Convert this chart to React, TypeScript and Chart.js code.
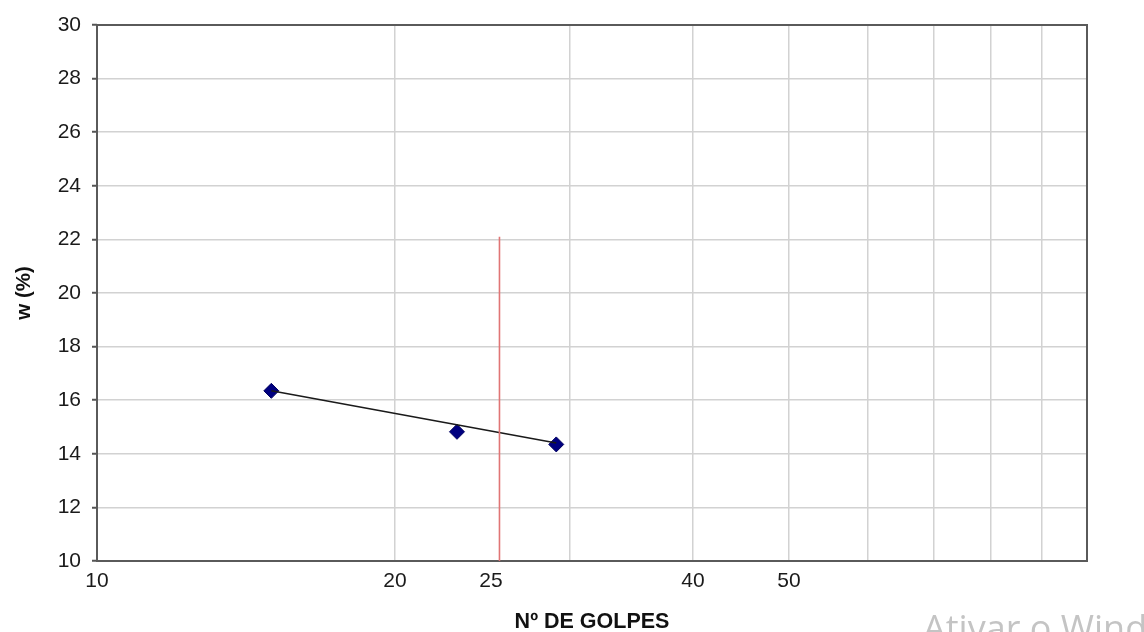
import React, { useEffect, useRef } from "react";
import { Chart, registerables } from "chart.js";

Chart.register(...registerables);

// Data
const golpes = [15.0, 23.1, 29.1];
const umidade = [16.35, 14.82, 14.35];
const trendGolpes = [15.0, 29.1];
const trendUmidade = [16.35, 14.4];
const refLineGolpes = [25.5, 25.5];
const refLineUmidade = [10, 22.1];

const xGridValues = [10, 20, 25, 30, 40, 50, 60, 70, 80, 90, 100];
const xTickLabels = [10, 20, 25, 40, 50];
const hiddenGridValues = [25];

const FONT = "'Liberation Sans', Arial, sans-serif";

const frame = {
  id: "frame",
  beforeDatasetsDraw(chart: any) {
    const { ctx, chartArea } = chart;
    ctx.save();
    ctx.strokeStyle = "#5a5a5a";
    ctx.lineWidth = 2;
    ctx.strokeRect(chartArea.left, chartArea.top, chartArea.right - chartArea.left, chartArea.bottom - chartArea.top);
    ctx.restore();
  },
};

export default function App() {
  const ref = useRef<HTMLCanvasElement | null>(null);

  useEffect(() => {
    if (!ref.current) return;
    const chart = new Chart(ref.current, {
      type: "scatter",
      data: {
        datasets: [
          {
            label: "ref",
            data: refLineGolpes.map((x, i) => ({ x, y: refLineUmidade[i] })),
            showLine: true,
            borderColor: "#e07575",
            borderWidth: 1.6,
            pointRadius: 0,
          },
          {
            label: "trend",
            data: trendGolpes.map((x, i) => ({ x, y: trendUmidade[i] })),
            showLine: true,
            borderColor: "#1a1a1a",
            borderWidth: 1.6,
            pointRadius: 0,
          },
          {
            label: "w",
            data: golpes.map((x, i) => ({ x, y: umidade[i] })),
            pointStyle: "rectRot",
            pointRadius: 7.5,
            pointBackgroundColor: "#000080",
            pointBorderColor: "#000060",
            pointBorderWidth: 1,
          },
        ],
      },
      options: {
        animation: false,
        responsive: true,
        maintainAspectRatio: false,
        layout: { padding: { left: 0, top: 25, right: 57, bottom: 0 } },
        plugins: { legend: { display: false }, tooltip: { enabled: false } },
        scales: {
          x: {
            type: "logarithmic",
            min: 10,
            max: 100,
            afterBuildTicks: (scale: any) => {
              scale.ticks = xGridValues.map((v) => ({ value: v }));
            },
            afterFit: (scale: any) => {
              scale.height = 71;
            },
            border: { display: false },
            grid: {
              drawTicks: false,
              color: (c: any) =>
                c.tick && hiddenGridValues.includes(c.tick.value) ? "rgba(0,0,0,0)" : "#d2d2d2",
              lineWidth: 1.5,
            },
            ticks: {
              autoSkip: false,
              maxRotation: 0,
              padding: 8,
              color: "#1a1a1a",
              font: { family: FONT, size: 21 },
              callback: (v: any) => (xTickLabels.includes(Number(v)) ? String(v) : ""),
            },
            title: {
              display: true,
              text: "Nº DE GOLPES",
              color: "#111",
              font: { family: FONT, size: 21.5, weight: "bold", lineHeight: 1 },
              padding: { top: 0, bottom: -1 },
            },
          },
          y: {
            min: 10,
            max: 30,
            afterFit: (scale: any) => {
              scale.width = 97;
            },
            border: { display: false },
            grid: {
              color: "#d2d2d2",
              lineWidth: 1.5,
              tickColor: "#555",
              tickLength: 5,
              tickWidth: 2,
            },
            ticks: {
              stepSize: 2,
              padding: 11,
              color: "#1a1a1a",
              font: { family: FONT, size: 21 },
            },
            title: {
              display: true,
              text: "w (%)",
              color: "#111",
              font: { family: FONT, size: 20.5, weight: "bold", lineHeight: 1 },
              padding: { top: 14, bottom: 0 },
            },
          },
        },
      },
      plugins: [frame],
    });
    return () => chart.destroy();
  }, []);

  return (
    <div style={{ position: "absolute", left: 0, top: 0, width: 1144, height: 632, overflow: "hidden", background: "#fff" }}>
      <canvas ref={ref} />
      <div
        style={{
          position: "absolute",
          left: 923,
          top: 610,
          fontFamily: "'Open Sans', sans-serif",
          fontSize: 36,
          lineHeight: 1,
          color: "#c4c4c4",
          whiteSpace: "nowrap",
        }}
      >
        Ativar o Windows
      </div>
    </div>
  );
}
